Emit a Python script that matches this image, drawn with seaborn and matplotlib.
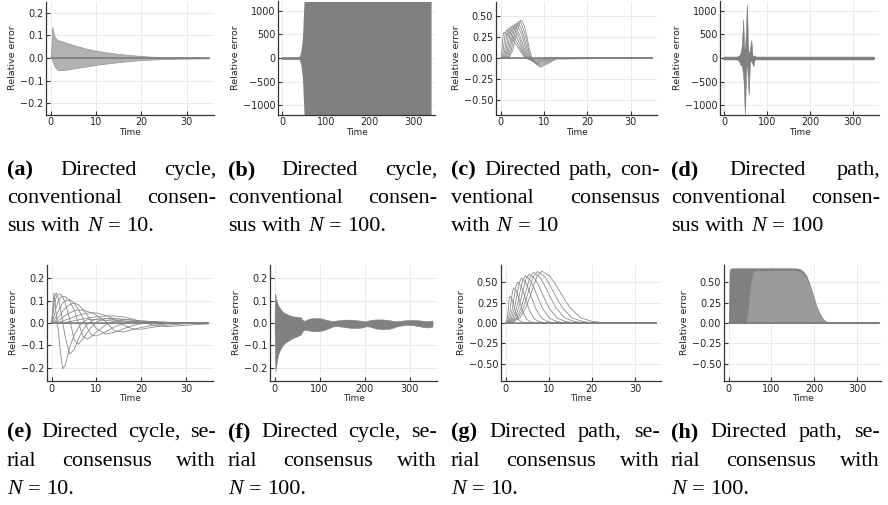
import numpy as np
import pandas as pd
import matplotlib
matplotlib.use("Agg")
import matplotlib.pyplot as plt
from matplotlib.ticker import FixedLocator, FuncFormatter
import seaborn as sns

# ---------------- data ----------------
# (a) directed cycle, conventional, N=10 : envelope of the 10 oscillating curves
a_t = [0, 0.2, 0.36, 0.7, 1.0, 1.3, 1.8, 2.4, 3.5, 5.7, 7.9, 10.8, 14.5, 18.1, 21.8, 25.4, 29, 35]
a_up = [0, 0.06, 0.137, 0.1, 0.09, 0.082, 0.077, 0.074, 0.066, 0.053, 0.041, 0.029, 0.019, 0.012, 0.006, 0.003, 0.0015, 0.001]
a_lo = [0, 0, -0.01, -0.03, -0.04, -0.048, -0.054, -0.053, -0.051, -0.044, -0.037, -0.028, -0.019, -0.012, -0.007, -0.0045, -0.003, -0.0015]

# (b) directed cycle, conventional, N=100 : envelope (diverging)
b_t = [0, 30, 34, 36, 38, 40, 42, 44, 46, 47, 48, 49, 50, 51, 341]
b_up = [0, 2, 6, 12, 30, 60, 130, 250, 430, 600, 850, 1050, 1250, 1300, 1300]
b_lo = [0, -2, -6, -12, -30, -60, -130, -250, -430, -600, -850, -1050, -1250, -1300, -1300]

# (c) directed path, conventional, N=10 : individual curves
c_t = [
    [0, 35],
    [0, 0.15, 0.35, 0.55, 0.8, 1.2, 2.0, 3.0, 4.0, 5.0, 5.6, 6.5, 7.5, 8.5, 10, 35],
    [0, 0.37, 0.65, 0.95, 1.3, 1.7, 2.5, 3.5, 4.5, 5.2, 5.8, 6.8, 7.8, 9, 10.5, 35],
    [0, 0.6, 0.95, 1.35, 1.75, 2.2, 3.0, 4.0, 5.0, 5.5, 6.0, 7.0, 8.1, 9.3, 11, 35],
    [0, 0.8, 1.25, 1.75, 2.2, 2.7, 3.5, 4.3, 5.2, 5.7, 6.2, 7.2, 8.3, 9.5, 11.5, 35],
    [0, 1.0, 1.55, 2.15, 2.7, 3.2, 3.9, 4.6, 5.4, 5.9, 6.4, 7.4, 8.5, 9.7, 11.8, 35],
    [0, 1.2, 1.85, 2.55, 3.2, 3.7, 4.3, 5.0, 5.7, 6.15, 6.6, 7.6, 8.7, 9.9, 12, 35],
    [0, 1.45, 2.15, 2.95, 3.65, 4.15, 4.7, 5.3, 6.0, 6.4, 6.8, 7.8, 8.9, 10.1, 12.3, 35],
    [0, 1.65, 2.45, 3.35, 4.1, 4.6, 5.1, 5.7, 6.3, 6.65, 7.0, 8.0, 9.0, 10.3, 12.6, 35],
    [0, 1.9, 2.8, 3.8, 4.6, 5.0, 5.5, 6.0, 6.55, 6.9, 7.2, 8.2, 9.2, 10.5, 12.8, 35],
]
c_v = [
    [0, 0],
    [0, 0, 0.12, 0.26, 0.31, 0.3, 0.26, 0.2, 0.13, 0.05, 0, -0.015, -0.02, -0.012, 0, 0],
    [0, 0, 0.1, 0.26, 0.335, 0.325, 0.28, 0.21, 0.12, 0.05, 0, -0.02, -0.03, -0.018, 0, 0],
    [0, 0, 0.09, 0.26, 0.355, 0.345, 0.3, 0.22, 0.1, 0.045, 0, -0.025, -0.04, -0.025, 0, 0],
    [0, 0, 0.09, 0.27, 0.375, 0.365, 0.32, 0.24, 0.11, 0.05, 0, -0.032, -0.05, -0.032, -0.003, 0],
    [0, 0, 0.09, 0.28, 0.39, 0.38, 0.33, 0.25, 0.12, 0.055, 0, -0.04, -0.06, -0.04, -0.005, 0],
    [0, 0, 0.09, 0.29, 0.405, 0.395, 0.35, 0.26, 0.13, 0.06, 0, -0.045, -0.07, -0.048, -0.006, 0],
    [0, 0, 0.09, 0.3, 0.42, 0.41, 0.36, 0.27, 0.13, 0.06, 0, -0.055, -0.085, -0.06, -0.008, 0],
    [0, 0, 0.09, 0.31, 0.44, 0.43, 0.37, 0.27, 0.13, 0.06, 0, -0.065, -0.1, -0.07, -0.01, 0],
    [0, 0, 0.09, 0.32, 0.456, 0.445, 0.38, 0.28, 0.13, 0.06, 0, -0.07, -0.11, -0.078, -0.012, 0],
]

# (d) directed path, conventional, N=100 : envelope of the burst
d_t = [0, 15, 25, 30, 33, 35, 37, 39, 41,
       42, 43, 44, 45, 46, 47, 48, 49, 50, 51, 52, 53, 54, 55, 56, 57,
       58, 59, 60, 61, 62, 63, 64, 65, 66, 67, 68, 69, 70, 71, 72, 73,
       75, 78, 85, 347]
d_up = [0, 3, 10, 25, 45, 60, 90, 150, 300,
        450, 650, 820, 600, 300, 180, 200, 300, 500, 750, 1000, 1130, 800, 400, 150, 100,
        120, 150, 180, 260, 340, 380, 280, 150, 60, 40, 35, 40, 45, 50, 55, 30,
        10, 5, 3, 3]
d_lo = [0, -3, -12, -30, -55, -80, -130, -160, -150,
        -200, -300, -380, -500, -720, -1000, -1190, -1000, -600, -250, -150, -180, -280, -450, -650, -780,
        -600, -300, -120, -70, -60, -70, -90, -110, -135, -155, -165, -120, -60, -35, -25, -20,
        -10, -5, -3, -3]

# (e) directed cycle, serial, N=10 : individual curves on a common time grid
e_t = [0, 0.5, 1, 1.5, 2, 2.5, 3, 4, 5, 6, 7, 8, 9, 10, 12, 14, 16, 18, 20, 23, 26, 30, 35]
e_v = [
    [0] * 23,
    [0, 0.135, 0.04, -0.04, -0.14, -0.205, -0.19, -0.11, -0.055, -0.02, 0.005, 0.015, 0.016, 0.015, 0.012, 0.008, 0.006, 0.004, 0.003, 0.002, 0.001, 0.0005, 0],
    [0, 0.11, 0.135, 0.11, 0.06, 0.0, -0.06, -0.14, -0.12, -0.07, -0.03, -0.005, 0.01, 0.018, 0.02, 0.015, 0.01, 0.007, 0.005, 0.003, 0.002, 0.001, 0],
    [0, 0.07, 0.115, 0.13, 0.128, 0.115, 0.09, 0.02, -0.075, -0.095, -0.07, -0.04, -0.015, 0.005, 0.02, 0.022, 0.017, 0.012, 0.008, 0.004, 0.002, 0.001, 0],
    [0, 0.03, 0.07, 0.1, 0.115, 0.12, 0.118, 0.1, 0.06, 0.0, -0.06, -0.072, -0.06, -0.04, -0.01, 0.01, 0.016, 0.014, 0.01, 0.006, 0.003, 0.001, 0],
    [0, 0.01, 0.03, 0.055, 0.075, 0.09, 0.1, 0.105, 0.09, 0.06, 0.02, -0.025, -0.055, -0.058, -0.04, -0.018, -0.002, 0.006, 0.008, 0.006, 0.003, 0.001, 0],
    [0, 0.003, 0.012, 0.025, 0.04, 0.055, 0.065, 0.082, 0.09, 0.082, 0.06, 0.032, 0.005, -0.025, -0.05, -0.042, -0.026, -0.012, -0.003, 0.002, 0.003, 0.002, 0],
    [0, 0.0, 0.004, 0.01, 0.018, 0.026, 0.034, 0.046, 0.054, 0.058, 0.058, 0.052, 0.044, 0.034, 0.008, -0.035, -0.04, -0.03, -0.02, -0.009, -0.004, -0.001, 0],
    [0, 0, 0.001, 0.003, 0.006, 0.009, 0.013, 0.02, 0.028, 0.035, 0.04, 0.044, 0.046, 0.045, 0.035, 0.016, -0.008, -0.026, -0.028, -0.018, -0.009, -0.003, -0.001],
    [0, 0, 0, 0, 0.001, 0.002, 0.003, 0.006, 0.01, 0.014, 0.018, 0.022, 0.025, 0.028, 0.031, 0.032, 0.028, 0.018, 0.006, -0.012, -0.016, -0.01, -0.004],
]

# (f) directed cycle, serial, N=100 : envelope of the band
f_t = [0, 1, 2, 4, 7, 10, 15, 20, 30, 40,
       50, 58, 63, 67, 75, 85, 95, 105, 115, 125,
       130, 140, 155, 170, 185, 195, 203, 212, 225, 240,
       255, 265, 272, 285, 300, 315, 330, 340, 346, 351]
f_up = [0.0, 0.13, 0.125, 0.105, 0.085, 0.072, 0.058, 0.048, 0.037, 0.03,
        0.028, 0.026, 0.012, 0.01, 0.018, 0.022, 0.022, 0.02, 0.014, 0.01,
        0.009, 0.012, 0.015, 0.015, 0.012, 0.009, 0.008, 0.013, 0.016, 0.016,
        0.013, 0.009, 0.008, 0.011, 0.014, 0.013, 0.01, 0.008, 0.01, 0.01]
f_lo = [0.0, -0.1, -0.215, -0.19, -0.15, -0.13, -0.11, -0.095, -0.08, -0.068,
        -0.06, -0.052, -0.035, -0.03, -0.033, -0.037, -0.037, -0.034, -0.028, -0.02,
        -0.015, -0.014, -0.018, -0.022, -0.022, -0.02, -0.015, -0.016, -0.025, -0.028,
        -0.026, -0.02, -0.015, -0.01, -0.008, -0.012, -0.018, -0.02, -0.018, -0.016]

# (g) directed path, serial, N=10 : individual bump curves
g_t = [
    [0, 35],
    [0, 0.01, 0.29, 0.49, 0.61, 0.72, 0.85, 1.0, 1.46, 1.84, 2.18, 2.55, 3.15, 3.8, 4.3, 5.5, 35],
    [0, 0.1, 0.61, 0.97, 1.19, 1.40, 1.62, 1.9, 2.54, 3.08, 3.55, 4.07, 4.91, 5.82, 6.52, 8.2, 35],
    [0, 0.25, 0.97, 1.48, 1.80, 2.09, 2.41, 2.8, 3.63, 4.31, 4.92, 5.59, 6.67, 7.84, 8.74, 10.9, 35],
    [0, 0.4, 1.34, 1.99, 2.40, 2.78, 3.19, 3.7, 4.71, 5.55, 6.30, 7.11, 8.43, 9.86, 10.96, 13.6, 35],
    [0, 0.55, 1.70, 2.51, 3.01, 3.47, 3.98, 4.6, 5.80, 6.78, 7.67, 8.63, 10.19, 11.88, 13.18, 16.3, 35],
    [0, 0.7, 2.06, 3.02, 3.61, 4.16, 4.76, 5.5, 6.88, 8.02, 9.04, 10.15, 11.95, 13.9, 15.4, 19.0, 35],
    [0, 0.95, 2.52, 3.63, 4.32, 4.95, 5.65, 6.5, 8.04, 9.31, 10.45, 11.69, 13.7, 15.88, 17.56, 21.6, 35],
    [0, 1.1, 2.89, 4.15, 4.92, 5.64, 6.43, 7.4, 9.10, 10.51, 11.77, 13.14, 15.36, 17.76, 19.61, 24.05, 35],
    [0, 1.35, 3.35, 4.76, 5.63, 6.43, 7.32, 8.4, 10.33, 11.93, 13.36, 14.91, 17.43, 20.16, 22.26, 27.3, 35],
]
g_v = [
    [0, 0],
    [0, 0, 0.033, 0.099, 0.165, 0.231, 0.297, 0.33, 0.297, 0.231, 0.165, 0.099, 0.033, 0.0099, 0.0036, 0, 0],
    [0, 0, 0.043, 0.129, 0.215, 0.301, 0.387, 0.43, 0.387, 0.301, 0.215, 0.129, 0.043, 0.0129, 0.0047, 0, 0],
    [0, 0, 0.05, 0.15, 0.25, 0.35, 0.45, 0.50, 0.45, 0.35, 0.25, 0.15, 0.05, 0.015, 0.0055, 0, 0],
    [0, 0, 0.055, 0.165, 0.275, 0.385, 0.495, 0.55, 0.495, 0.385, 0.275, 0.165, 0.055, 0.0165, 0.006, 0, 0],
    [0, 0, 0.058, 0.174, 0.29, 0.406, 0.522, 0.58, 0.522, 0.406, 0.29, 0.174, 0.058, 0.0174, 0.0064, 0, 0],
    [0, 0, 0.06, 0.18, 0.30, 0.42, 0.54, 0.60, 0.54, 0.42, 0.30, 0.18, 0.06, 0.018, 0.0066, 0, 0],
    [0, 0, 0.062, 0.186, 0.31, 0.434, 0.558, 0.62, 0.558, 0.434, 0.31, 0.186, 0.062, 0.0186, 0.0068, 0, 0],
    [0, 0, 0.063, 0.189, 0.315, 0.441, 0.567, 0.63, 0.567, 0.441, 0.315, 0.189, 0.063, 0.0189, 0.0069, 0, 0],
    [0, 0, 0.0635, 0.19, 0.3175, 0.4445, 0.5715, 0.635, 0.5715, 0.4445, 0.3175, 0.19, 0.0635, 0.019, 0.007, 0, 0],
]

# (h) directed path, serial, N=100 : envelope (dark) and the lighter inner region
h_t = [0, 1, 2, 3, 5, 10, 150, 160, 168, 175, 182, 188, 194, 200, 206, 212, 218, 224, 230, 238, 250, 350]
h_up = [0, 0.45, 0.62, 0.66, 0.672, 0.675, 0.675, 0.672, 0.66, 0.63, 0.58, 0.5, 0.4, 0.3, 0.2, 0.13, 0.07, 0.035, 0.015, 0.005, 0.0, 0.0]
h_in_t = [40, 44, 48, 52, 56, 60, 150, 160, 168, 175, 182, 188, 194, 200, 206, 212, 218, 224, 230, 238, 250]
h_in_v = [0, 0.12, 0.3, 0.48, 0.6, 0.64, 0.645, 0.64, 0.625, 0.595, 0.545, 0.47, 0.37, 0.27, 0.18, 0.11, 0.06, 0.028, 0.011, 0.003, 0]

zero_short = [0, 35]
zero_long = [0, 350]

captions = {
    "a": [([("(a)", "b"), "Directed", "cycle,"], True), (["conventional", "consen-"], True),
          (["sus", "with", ("N", "i"), "=", "10."], False)],
    "b": [([("(b)", "b"), "Directed", "cycle,"], True), (["conventional", "consen-"], True),
          (["sus", "with", ("N", "i"), "=", "100."], False)],
    "c": [([("(c)", "b"), "Directed", "path,", "con-"], True), (["ventional", "consensus"], True),
          (["with", ("N", "i"), "=", "10"], False)],
    "d": [([("(d)", "b"), "Directed", "path,"], True), (["conventional", "consen-"], True),
          (["sus", "with", ("N", "i"), "=", "100"], False)],
    "e": [([("(e)", "b"), "Directed", "cycle,", "se-"], True), (["rial", "consensus", "with"], True),
          ([("N", "i"), "=", "10."], False)],
    "f": [([("(f)", "b"), "Directed", "cycle,", "se-"], True), (["rial", "consensus", "with"], True),
          ([("N", "i"), "=", "100."], False)],
    "g": [([("(g)", "b"), "Directed", "path,", "se-"], True), (["rial", "consensus", "with"], True),
          ([("N", "i"), "=", "10."], False)],
    "h": [([("(h)", "b"), "Directed", "path,", "se-"], True), (["rial", "consensus", "with"], True),
          ([("N", "i"), "=", "100."], False)],
}

# ---------------- drawing ----------------
sns.set_theme(style="ticks")
plt.rcParams["font.family"] = ["DejaVu Sans"]

fig = plt.figure(figsize=(8.88, 5.05), dpi=100)
W, H = 888.0, 505.0
LINE = "#8a8a8a"
FILL = "#808080"


def make_ax(l, r, top, bot):
    return fig.add_axes([l / W, 1 - bot / H, (r - l) / W, (bot - top) / H])


def fmt(dec):
    def f(v, pos):
        s = f"{v:.{dec}f}"
        return s.replace("-", "\u2212")
    return FuncFormatter(f)


def style(ax, xlim, xt, ylim, yt, dec):
    ax.set_xlim(*xlim)
    ax.set_ylim(*ylim)
    ax.xaxis.set_major_locator(FixedLocator(xt))
    ax.yaxis.set_major_locator(FixedLocator(yt))
    ax.yaxis.set_major_formatter(fmt(dec))
    ax.xaxis.set_major_formatter(fmt(0))
    ax.grid(True, color="#e6e6e6", lw=0.6)
    ax.set_axisbelow(True)
    for s in ("top", "right"):
        ax.spines[s].set_visible(False)
    for s in ("left", "bottom"):
        ax.spines[s].set_color("#333333")
        ax.spines[s].set_linewidth(0.9)
    ax.tick_params(direction="in", length=3, width=0.8, colors="#333333",
                   labelcolor="#222222", labelsize=6.9, pad=2)
    ax.set_xlabel("Time", fontsize=6.4, labelpad=0.5, color="#222222")
    ax.set_ylabel("Relative error", fontsize=6.8, labelpad=2, color="#222222")
    ax.set_facecolor("white")


def curves(ax, ts, vs, lw=0.6):
    rows = []
    for i, (t, v) in enumerate(zip(ts, vs)):
        for a, b in zip(t, v):
            rows.append((i, a, b))
    df = pd.DataFrame(rows, columns=["curve", "t", "v"])
    sns.lineplot(data=df, x="t", y="v", units="curve", estimator=None, sort=False,
                 color=LINE, lw=lw, ax=ax, legend=False)


def zline(ax, t, lw=1.5):
    sns.lineplot(x=t, y=[0] * len(t), color=FILL, lw=lw, ax=ax, legend=False)


# (a)
ax = make_ax(46, 214, 1.5, 114.5)
ax.fill_between(a_t, a_lo, a_up, color="#b2b2b2", lw=0.6, edgecolor="#999999")
zline(ax, zero_short, 1.3)
style(ax, (-1.05, 36.05), [0, 10, 20, 30], (-0.25, 0.25), [-0.2, -0.1, 0, 0.1, 0.2], 1)

# (b)
ax = make_ax(278, 435, 1.5, 114.5)
ax.fill_between(b_t, b_lo, b_up, color=FILL, lw=0)
zline(ax, [0, 40], 2.0)
style(ax, (-10, 350), [0, 100, 200, 300], (-1200, 1200), [-1000, -500, 0, 500, 1000], 0)

# (c)
ax = make_ax(496, 657, 1.5, 114.5)
curves(ax, c_t, c_v)
zline(ax, zero_short, 1.2)
style(ax, (-1.05, 36.05), [0, 10, 20, 30], (-0.68, 0.68), [-0.5, -0.25, 0, 0.25, 0.5], 2)

# (d)
ax = make_ax(720, 879, 1.5, 114.5)
ax.fill_between(d_t, d_lo, d_up, color=FILL, lw=0.4, edgecolor=FILL)
zline(ax, [0, 347], 2.5)
style(ax, (-10, 361), [0, 100, 200, 300], (-1200, 1200), [-1000, -500, 0, 500, 1000], 0)

# (e)
ax = make_ax(47, 213, 265, 381)
curves(ax, [e_t] * len(e_v), e_v)
zline(ax, zero_short, 1.2)
style(ax, (-1.05, 36.05), [0, 10, 20, 30], (-0.26, 0.26), [-0.2, -0.1, 0, 0.1, 0.2], 1)

# (f)
ax = make_ax(270, 437, 265, 381)
ax.fill_between(f_t, f_lo, f_up, color=FILL, lw=0.4, edgecolor=FILL)
style(ax, (-10, 361), [0, 100, 200, 300], (-0.26, 0.26), [-0.2, -0.1, 0, 0.1, 0.2], 1)

# (g)
ax = make_ax(501, 661, 265, 381)
curves(ax, g_t, g_v)
zline(ax, zero_short, 1.2)
style(ax, (-1.05, 36.05), [0, 10, 20, 30], (-0.71, 0.71), [-0.5, -0.25, 0, 0.25, 0.5], 2)

# (h)
ax = make_ax(724, 881, 265, 381)
ax.fill_between(h_t, 0, h_up, color=FILL, lw=0)
ax.fill_between(h_in_t, 0, h_in_v, color="#9b9b9b", lw=0)
zline(ax, zero_long, 1.5)
style(ax, (-10.5, 355), [0, 100, 200, 300], (-0.71, 0.71), [-0.5, -0.25, 0, 0.25, 0.5], 2)

# ---------------- captions (justified, serif) ----------------
CAP_FONT = "Liberation Serif"
CAP_SIZE = 16
renderer = fig.canvas.get_renderer()
em = CAP_SIZE * 100 / 72.0


def caption(x0, width, baselines, lines):
    for (tokens, justify), yb in zip(lines, baselines):
        objs = []
        for tok in tokens:
            s, kind = tok if isinstance(tok, tuple) else (tok, "")
            kw = dict(fontsize=CAP_SIZE, family=CAP_FONT, va="baseline", ha="left", color="black")
            if kind == "b":
                kw["fontweight"] = "bold"
            if kind == "i":
                kw["style"] = "italic"
            objs.append(fig.text(0, 1 - yb / H, s, **kw))
        widths = [o.get_window_extent(renderer).width for o in objs]
        if justify and len(objs) > 1:
            gap = max((width - sum(widths)) / (len(objs) - 1), 0.15 * em)
        else:
            gap = 0.27 * em
        x = x0
        for o, w in zip(objs, widths):
            o.set_x(x / W)
            x += w + gap


cols = [7, 228, 451, 671]
for key, col in zip("abcd", cols):
    caption(col, 209, [175, 203, 231], captions[key])
for key, col in zip("efgh", cols):
    caption(col, 209, [437, 466, 494], captions[key])

fig.savefig("out.png", dpi=100, facecolor="white")
